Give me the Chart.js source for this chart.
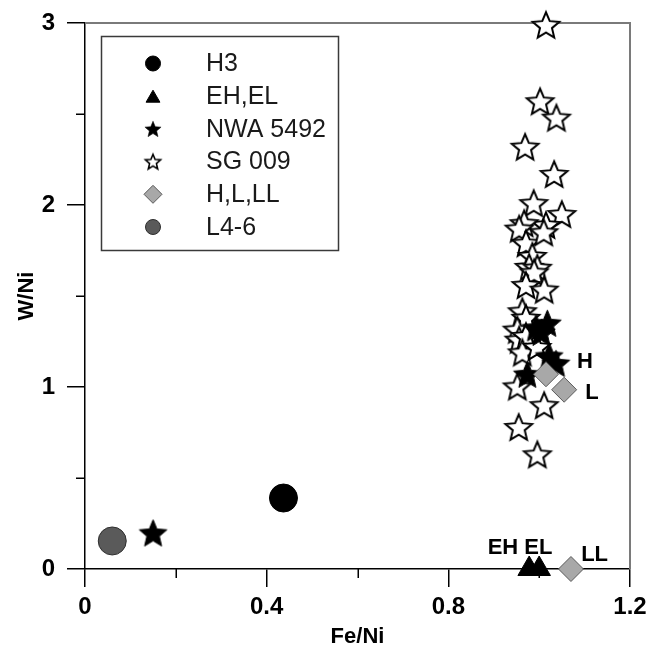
<!DOCTYPE html>
<html><head><meta charset="utf-8">
<script src="https://cdn.jsdelivr.net/npm/chart.js@4.4.1/dist/chart.umd.min.js"></script>
<style>html,body{margin:0;padding:0;background:#fff}#wrap{width:651px;height:648px}</style>
</head><body><div id="wrap"><canvas id="c" width="651" height="648"></canvas></div>
<script>
// ---------- data ----------
const seriesNames = ['H3', 'EH,EL', 'NWA 5492', 'SG 009', 'H,L,LL', 'L4-6'];
const h3X = [0.437];
const h3Y = [0.39];
const ehelX = [0.978, 1.000];
const ehelY = [0.0, 0.0];
const nwaX = [0.150, 1.018, 0.993, 1.005, 1.022, 1.037, 0.974];
const nwaY = [0.198, 1.35, 1.325, 1.30, 1.17, 1.13, 1.07];
const sgX = [1.015, 1.002, 1.038, 0.969, 1.033, 0.988, 1.050, 1.015, 0.967, 0.956, 0.971, 1.010, 0.985,
             0.978, 0.996, 0.989, 0.971, 1.011, 0.963, 0.971, 0.952, 0.956, 0.971, 0.963, 0.995, 0.952,
             1.011, 0.955, 0.996];
const sgY = [2.99, 2.57, 2.48, 2.32, 2.17, 2.01, 1.95, 1.89, 1.90, 1.87, 1.79, 1.85, 1.72,
             1.66, 1.655, 1.63, 1.56, 1.535, 1.416, 1.38, 1.315, 1.26, 1.28, 1.19, 1.22, 1.003,
             0.90, 0.78, 0.63];
const hlllX = [1.015, 1.055, 1.070];
const hlllY = [1.07, 0.985, 0.0];
const l46X = [0.060];
const l46Y = [0.154];
const annoText = ['H', 'L', 'LL', 'EH EL'];
const annoX = [1.101, 1.116, 1.122, 0.958];
const annoY = [1.139, 0.969, 0.077, 0.116];
const xTickVals = [0, 0.4, 0.8, 1.2];
const xMinorVals = [0.2, 0.6, 1.0];
const yTickVals = [0, 1, 2, 3];
const yMinorVals = [0.5, 1.5, 2.5];

// ---------- helpers ----------
const FONT = "'Liberation Sans', Arial, Helvetica, sans-serif";
function pts(xs, ys) { return xs.map((x, i) => ({ x: x, y: ys[i] })); }
function starCanvas(R, fill, stroke, lw, ratio) {
  const pad = lw + 2;
  const size = Math.ceil(2 * R + 2 * pad);
  const c = document.createElement('canvas');
  c.width = size; c.height = size;
  const g = c.getContext('2d');
  const cx = size / 2, cy = size / 2 + R * 0.09;
  g.beginPath();
  for (let i = 0; i < 10; i++) {
    const r = i % 2 ? R * ratio : R;
    const a = -Math.PI / 2 + i * Math.PI / 5;
    g.lineTo(cx + r * Math.cos(a), cy + r * Math.sin(a));
  }
  g.closePath();
  g.fillStyle = fill; g.fill();
  if (lw > 0) { g.lineWidth = lw; g.strokeStyle = stroke; g.lineJoin = 'miter'; g.stroke(); }
  return c;
}
const whiteStar = starCanvas(14, '#ffffff', '#000000', 2, 0.45);
const blackStar = starCanvas(14.5, '#000000', '#000000', 1, 0.45);
const whiteStarSm = starCanvas(8, '#ffffff', '#000000', 1.6, 0.45);
const blackStarSm = starCanvas(8.5, '#000000', '#000000', 0.5, 0.45);

const styles = {
  'H3':       { pointStyle: 'circle', radius: 14, bg: '#000000', bc: '#000000', bw: 1, lr: 7.5 },
  'EH,EL':    { pointStyle: 'triangle', radius: 13, bg: '#000000', bc: '#000000', bw: 1, lr: 8 },
  'NWA 5492': { pointStyle: blackStar, radius: 14, bg: '#000', bc: '#000', bw: 0, legendStyle: blackStarSm },
  'SG 009':   { pointStyle: whiteStar, radius: 14, bg: '#fff', bc: '#000', bw: 0, legendStyle: whiteStarSm },
  'H,L,LL':   { pointStyle: 'rectRot', radius: 12.5, bg: '#a8a8a8', bc: '#5a5a5a', bw: 1, lr: 9 },
  'L4-6':     { pointStyle: 'circle', radius: 14, bg: '#5a5a5a', bc: '#2e2e2e', bw: 1, lr: 7.5 }
};
function ds(name, xs, ys, order) {
  const s = styles[name];
  return { label: name, data: pts(xs, ys), pointStyle: s.pointStyle, pointRadius: s.radius,
           backgroundColor: s.bg, borderColor: s.bc, borderWidth: s.bw, order: order, showLine: false, clip: false };
}

// ---------- plugins ----------
const framePlugin = {
  id: 'frame',
  beforeDatasetsDraw(chart) {
    const { ctx, chartArea: a } = chart;
    ctx.save();
    ctx.strokeStyle = '#7a7a7a'; ctx.lineWidth = 2;
    ctx.beginPath();
    ctx.moveTo(a.left, a.top); ctx.lineTo(a.right, a.top); ctx.lineTo(a.right, a.bottom);
    ctx.stroke();
    // minor ticks
    ctx.strokeStyle = '#000'; ctx.lineWidth = 1.5;
    const xs = chart.scales.x, ys = chart.scales.y;
    ctx.beginPath();
    xMinorVals.forEach(v => { const px = Math.round(xs.getPixelForValue(v)) + 0.25; ctx.moveTo(px, a.bottom); ctx.lineTo(px, a.bottom + 9); });
    yMinorVals.forEach(v => { const py = Math.round(ys.getPixelForValue(v)) + 0.25; ctx.moveTo(a.left, py); ctx.lineTo(a.left - 9, py); });
    ctx.stroke();
    ctx.restore();
  },
  afterDraw(chart) {
    const { ctx } = chart;
    const xs = chart.scales.x, ys = chart.scales.y;
    ctx.save();
    // annotations
    ctx.fillStyle = '#000';
    ctx.font = 'bold 22px ' + FONT;
    ctx.textAlign = 'center'; ctx.textBaseline = 'middle';
    annoText.forEach((t, i) => ctx.fillText(t, xs.getPixelForValue(annoX[i]), ys.getPixelForValue(annoY[i])));
    // legend box
    const bx = 101, by = 36, bw = 237, bh = 214;
    ctx.fillStyle = '#fff';
    ctx.fillRect(bx, by, bw, bh);
    ctx.strokeStyle = '#3a3a3a'; ctx.lineWidth = 1.5;
    ctx.strokeRect(bx + 0.5, by + 0.5, bw, bh);
    const rowY0 = 63.5, rowGap = 32.7, mx = 153, tx = 206;
    ctx.font = '25px ' + FONT;
    ctx.textAlign = 'left'; ctx.textBaseline = 'middle';
    seriesNames.forEach((name, i) => {
      const s = styles[name];
      const y = rowY0 + i * rowGap;
      ctx.save();
      ctx.fillStyle = s.bg; ctx.strokeStyle = s.bc; ctx.lineWidth = s.bw;
      if (s.legendStyle) {
        Chart.helpers.drawPoint(ctx, { pointStyle: s.legendStyle, radius: 8, rotation: 0, borderWidth: 0 }, mx, y);
      } else {
        Chart.helpers.drawPoint(ctx, { pointStyle: s.pointStyle, radius: s.lr, rotation: 0, borderWidth: s.bw }, mx, y + (s.pointStyle === 'triangle' ? 2 : 0));
      }
      ctx.restore();
      ctx.fillStyle = '#1a1a1a';
      ctx.fillText(name, tx, y + 1);
    });
    ctx.restore();
  }
};

// ---------- chart ----------
Chart.defaults.font.family = FONT;
new Chart(document.getElementById('c'), {
  type: 'scatter',
  data: {
    datasets: [
      ds('H,L,LL', hlllX, hlllY, 0),
      ds('NWA 5492', nwaX, nwaY, 1),
      ds('SG 009', sgX, sgY, 2),
      ds('H3', h3X, h3Y, 3),
      ds('EH,EL', ehelX, ehelY, 4),
      ds('L4-6', l46X, l46Y, 5)
    ]
  },
  options: {
    responsive: false,
    devicePixelRatio: 1,
    animation: false,
    events: [],
    layout: { padding: { left: 0, right: 21, top: 23, bottom: 0 } },
    plugins: { legend: { display: false }, tooltip: { enabled: false } },
    scales: {
      x: {
        type: 'linear', min: 0, max: 1.2,
        afterBuildTicks: s => { s.ticks = xTickVals.map(v => ({ value: v })); },
        afterFit: s => { s.height = 79; s.paddingLeft = 0; s.paddingRight = 0; },
        grid: { drawOnChartArea: false, drawTicks: true, tickLength: 18, color: '#000', lineWidth: 1.5 },
        border: { display: true, color: '#000', width: 1.5 },
        ticks: { color: '#000', font: { size: 24, weight: 'bold' }, padding: 6, maxRotation: 0, autoSkip: false,
                 callback: v => String(+(+v).toFixed(1)) },
        title: { display: true, text: 'Fe/Ni', color: '#000', font: { size: 22, weight: 'bold', lineHeight: 1 }, padding: { top: 0, bottom: 0 } }
      },
      y: {
        type: 'linear', min: 0, max: 3,
        afterBuildTicks: s => { s.ticks = yTickVals.map(v => ({ value: v })); },
        afterFit: s => { s.width = 85; s.paddingTop = 0; s.paddingBottom = 0; },
        grid: { drawOnChartArea: false, drawTicks: true, tickLength: 18, color: '#000', lineWidth: 1.5 },
        border: { display: true, color: '#000', width: 1.5 },
        ticks: { color: '#000', font: { size: 24, weight: 'bold', lineHeight: 1 }, padding: 12, autoSkip: false,
                 callback: v => String(+(+v).toFixed(1)) },
        title: { display: true, text: 'W/Ni', color: '#000', font: { size: 22, weight: 'bold', lineHeight: 1 }, padding: { top: 16, bottom: 0 } }
      }
    }
  },
  plugins: [framePlugin]
});
</script>
</body></html>
